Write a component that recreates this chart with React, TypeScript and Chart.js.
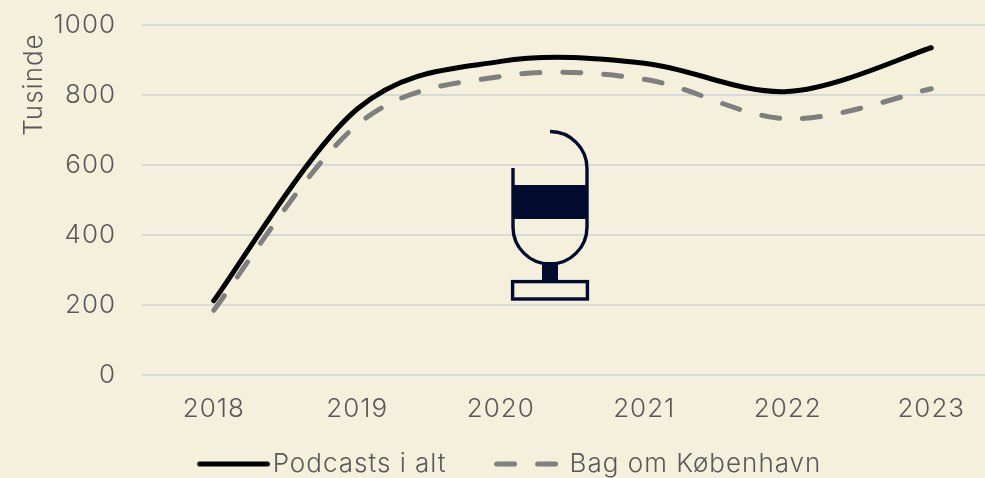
import React, { useEffect, useRef } from "react";
import { Chart, registerables } from "chart.js";

Chart.register(...registerables);

const years = ["2018", "2019", "2020", "2021", "2022", "2023"];
const podcastsTotal = [212, 760, 896, 891, 810, 935];
const bagOmKobenhavn = [185, 715, 853, 845, 732, 818];
const yTicks = [0, 200, 400, 600, 800, 1000];

const textColor = "#595959";
const fontFamily = "Inter, Lato, sans-serif";
const font = { family: fontFamily, size: 26, weight: "300" };
const letterSpacing = "1px";

const micPlugin = {
  id: "micIcon",
  afterDraw(chart: any) {
    const c = chart.ctx;
    c.save();
    c.strokeStyle = "#000b2e";
    c.fillStyle = "#000b2e";
    c.lineWidth = 3.4;
    c.lineCap = "butt";
    c.beginPath();
    c.moveTo(550, 131.5);
    c.arcTo(587, 131.5, 587, 168, 37);
    c.lineTo(587, 227);
    c.arc(550, 227, 37, 0, Math.PI);
    c.lineTo(513, 168);
    c.stroke();
    c.fillRect(513, 185, 74, 34);
    c.fillRect(542, 262, 16, 18);
    c.strokeRect(512.6, 281.6, 74.8, 17.4);
    c.restore();
  },
};

const legendLayoutPlugin = {
  id: "legendLayout",
  beforeLayout(chart: any) {
    const l = chart.legend;
    if (l && !l.__patched) {
      const orig = l.fit;
      l.fit = function () {
        orig.call(this);
        this.height = 45;
      };
      l.__patched = true;
    }
  },
  afterLayout(chart: any) {
    const l = chart.legend;
    const pad = l.options.labels.padding;
    l.top = 451 - pad;
    l.left += 9;
    l.right += 9;
  },
};

// Uniform Catmull-Rom control points (spreadsheet-style smoothing), computed from the scaled points.
const smoothingPlugin = {
  id: "smoothing",
  beforeDatasetDraw(chart: any, args: any) {
    const line = args.meta.dataset;
    line.updateControlPoints(chart.chartArea);
    const pts = line.points;
    pts.forEach((p: any, i: number) => {
      const prev = pts[i - 1] || p;
      const next = pts[i + 1] || p;
      const dx = (next.x - prev.x) / 6;
      const dy = (next.y - prev.y) / 6;
      p.cp1x = p.x - dx;
      p.cp1y = p.y - dy;
      p.cp2x = p.x + dx;
      p.cp2y = p.y + dy;
    });
  },
};

const spacingPlugin = {
  id: "spacing",
  beforeLayout(ch: any) {
    ch.ctx.letterSpacing = letterSpacing;
  },
  beforeDraw(ch: any) {
    ch.ctx.letterSpacing = letterSpacing;
    ch.ctx.save();
    ch.ctx.fillStyle = "#f4f0dc";
    ch.ctx.fillRect(0, 0, ch.width, ch.height);
    ch.ctx.restore();
  },
};

function longSwatch(color: string) {
  const c = document.createElement("canvas");
  c.width = 80;
  c.height = 9;
  const x = c.getContext("2d") as CanvasRenderingContext2D;
  x.strokeStyle = color;
  x.lineWidth = 5;
  x.lineCap = "round";
  x.beginPath();
  x.moveTo(10, 4.5);
  x.lineTo(77.5, 4.5);
  x.stroke();
  return c;
}

export default function App() {
  const ref = useRef<HTMLCanvasElement>(null);
  useEffect(() => {
    document.body.style.margin = "0";
    document.body.style.overflow = "hidden";
    const chart = new Chart(ref.current as HTMLCanvasElement, {
      type: "line",
      data: {
        labels: years,
        datasets: [
          {
            label: "Podcasts i alt",
            data: podcastsTotal,
            borderColor: "#000000",
            backgroundColor: "#000000",
            borderWidth: 5,
            tension: 0.5,
            pointRadius: 0,
            borderCapStyle: "round",
          },
          {
            label: "Bag om København",
            data: bagOmKobenhavn,
            borderColor: "#7f7f7f",
            backgroundColor: "#7f7f7f",
            borderWidth: 5,
            tension: 0.5,
            pointRadius: 0,
            borderCapStyle: "round",
            borderDash: [18, 23],
          },
        ],
      },
      options: {
        animation: false,
        responsive: false,
        layout: { padding: { top: 25, right: 17, left: 0, bottom: 0 } },
        plugins: {
          tooltip: { enabled: false },
          legend: {
            position: "bottom",
            labels: {
              color: textColor,
              font,
              usePointStyle: true,
              pointStyle: "line",
              pointStyleWidth: 60,
              padding: 50,
              generateLabels(ch: any) {
                return ch.data.datasets.map((d: any, i: number) => ({
                  text: d.label,
                  fontColor: textColor,
                  strokeStyle: d.borderColor,
                  fillStyle: d.borderColor,
                  lineWidth: 5,
                  lineCap: "round",
                  lineDash: d.borderDash || [],
                  pointStyle: d.borderDash ? "line" : longSwatch(d.borderColor),
                  datasetIndex: i,
                }));
              },
            },
          },
        },
        scales: {
          x: {
            offset: true,
            grid: { display: false },
            border: { display: false },
            afterFit(axis: any) {
              axis.height = 67;
            },
            ticks: { color: textColor, font, padding: 11, maxRotation: 0 },
          },
          y: {
            min: 0,
            max: 1000,
            afterBuildTicks(axis: any) {
              axis.ticks = yTicks.map((v) => ({ value: v }));
            },
            afterFit(axis: any) {
              axis.width = 142;
              axis.paddingTop = 0;
              axis.paddingBottom = 0;
            },
            grid: { color: "#d9d9d9", lineWidth: 2, drawTicks: false },
            border: { display: false },
            title: {
              display: true,
              text: "Tusinde ",
              color: textColor,
              font,
              align: "end",
              padding: { top: 19, bottom: 0 },
            },
            ticks: {
              color: textColor,
              font,
              padding: 26,
              callback: (v: any) => String(v),
            },
          },
        },
      } as any,
      plugins: [spacingPlugin, micPlugin, legendLayoutPlugin, smoothingPlugin] as any,
    });
    return () => chart.destroy();
  }, []);
  return (
    <div style={{ width: 985, height: 478, overflow: "hidden", background: "#f4f0dc" }}>
      <canvas ref={ref} width={1020} height={487} style={{ display: "block" }} />
    </div>
  );
}
